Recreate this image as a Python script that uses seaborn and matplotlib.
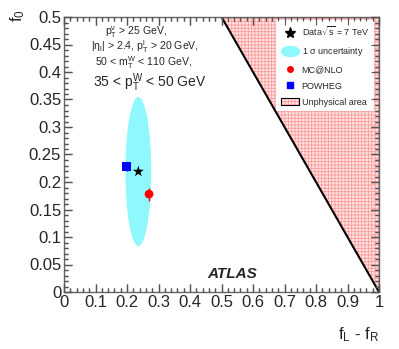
import numpy as np
import pandas as pd
import matplotlib
matplotlib.use("Agg")
import matplotlib.pyplot as plt
import matplotlib.path as mpath
from matplotlib.patches import Ellipse, Patch
from matplotlib.lines import Line2D
from matplotlib.collections import LineCollection
from matplotlib.legend_handler import HandlerTuple
from matplotlib.ticker import MultipleLocator
import seaborn as sns

# measured point and ellipse (fL - fR, f0)
data_x = [0.236]
data_y = [0.219]
ell_width = 0.082
ell_height = 0.271

# predictions
gen_names = ["MC@NLO", "POWHEG"]
gen_x = [0.270, 0.199]
gen_y = [0.178, 0.228]
gen_err = [0.012, 0.008]
gen_colors = ["#ff0000", "#0000ff"]
gen_markers = ["o", "s"]

# unphysical boundary f0 = 1 - (fL - fR)
bound_x = [0.5, 1.0]
bound_y = [0.5, 0.0]

sns.set_style("ticks")
plt.rcParams["font.family"] = ["Liberation Sans", "DejaVu Sans"]
plt.rcParams["mathtext.fontset"] = "custom"
plt.rcParams["mathtext.rm"] = "Liberation Sans"
plt.rcParams["mathtext.it"] = "Liberation Sans"
plt.rcParams["hatch.linewidth"] = 0.6
plt.rcParams["axes.axisbelow"] = False

fig = plt.figure(figsize=(3.99, 3.49), dpi=100)
ax = fig.add_axes([64 / 399, 1 - 292 / 349, 315 / 399, 275 / 349])
ax.set_axisbelow(False)

# unphysical area
ax.fill_between([0.5, 1.0], [0.5, 0.0], [0.5, 0.5],
                facecolor="#ffe4e4", edgecolor="#ff9a9a", hatch="+++++", linewidth=0)
sns.lineplot(x=bound_x, y=bound_y, color="black", linewidth=1.5, ax=ax)

# 1 sigma ellipse
ax.add_patch(Ellipse((data_x[0], data_y[0]), ell_width, ell_height,
                     facecolor="#8ff8ff", edgecolor="none", zorder=2))

gen_df = pd.DataFrame({"x": gen_x, "y": gen_y, "name": gen_names})
for i, name in enumerate(gen_names):
    ax.errorbar(gen_x[i], gen_y[i], yerr=gen_err[i], fmt="none",
                ecolor=gen_colors[i], elinewidth=1, zorder=3)
sns.scatterplot(data=gen_df, x="x", y="y", hue="name", style="name",
                palette=dict(zip(gen_names, gen_colors)),
                markers=dict(zip(gen_names, gen_markers)),
                s=40, edgecolor="none", legend=False, ax=ax, zorder=4)
sns.scatterplot(x=data_x, y=data_y, marker="*", color="black", s=70,
                edgecolor="none", ax=ax, zorder=5)

ax.set_xlim(0, 1)
ax.set_ylim(0, 0.5)
ax.xaxis.set_major_locator(MultipleLocator(0.1))
ax.xaxis.set_minor_locator(MultipleLocator(0.02))
ax.yaxis.set_major_locator(MultipleLocator(0.05))
ax.yaxis.set_minor_locator(MultipleLocator(0.01))
ax.xaxis.set_major_formatter(lambda v, p: f"{v:g}")
ax.yaxis.set_major_formatter(lambda v, p: f"{v:g}")
ax.tick_params(which="both", direction="in", top=True, right=True,
               bottom=True, left=True, labelsize=12, pad=2)
ax.tick_params(which="major", length=6, width=1, color="#555555")
ax.tick_params(which="minor", length=3, width=1, color="#555555")
for s in ax.spines.values():
    s.set_color("#666666")
    s.set_linewidth(1)
ax.set_xlabel("")
ax.set_ylabel("")


def draw_inner_ticks(ax, major_px=8, minor_px=4):
    # ROOT-style inward ticks on all four sides, drawn as plain lines
    bb = ax.get_window_extent()
    segs = []
    for locs, px in [(ax.xaxis.get_majorticklocs(), major_px),
                     (ax.xaxis.get_minorticklocs(), minor_px)]:
        h = px / bb.height
        for v in locs:
            if 0 <= v <= 1:
                segs.append([(v, 0), (v, h)])
                segs.append([(v, 1), (v, 1 - h)])
    ax.add_collection(LineCollection(segs, colors="#555555", linewidths=0.8,
                                     transform=ax.get_xaxis_transform(), zorder=6,
                                     clip_on=False))
    segs = []
    for locs, px in [(ax.yaxis.get_majorticklocs(), major_px),
                     (ax.yaxis.get_minorticklocs(), minor_px)]:
        w = px / bb.width
        for v in locs:
            if 0 <= v <= 0.5:
                segs.append([(0, v), (w, v)])
                segs.append([(1, v), (1 - w, v)])
    ax.add_collection(LineCollection(segs, colors="#555555", linewidths=0.8,
                                     transform=ax.get_yaxis_transform(), zorder=6,
                                     clip_on=False))


fig.text(359 / 399, 1 - 335 / 349, r"f$_{\rm L}$ - f$_{\rm R}$", fontsize=12,
         ha="center", va="center")
fig.text(18 / 399, 1 - 16 / 349, r"f$_0$", fontsize=12, rotation=90,
         ha="center", va="center")

# cut descriptions
ax.text(0.229, 0.473, r"p$_{\rm T}^{\nu}$ > 25 GeV,", fontsize=7.6, ha="center", va="center")
ax.text(0.257, 0.446, r"|$\eta_{\rm l}$| > 2.4, p$_{\rm T}^{\rm l}$ > 20 GeV,", fontsize=7.6,
        ha="center", va="center")
ax.text(0.254, 0.417, r"50 < m$_{\rm T}^{\rm W}$ < 110 GeV,", fontsize=7.6, ha="center", va="center")
ax.text(0.273, 0.380, r"35 < p$_{\rm T}^{\rm W}$ < 50 GeV", fontsize=10, ha="center", va="center")
ax.text(0.533, 0.033, "ATLAS", fontsize=11, fontweight="bold", fontstyle="italic",
        ha="center", va="center")

# legend
t = np.linspace(0, 2 * np.pi, 60)
ell_path = mpath.Path(np.column_stack([np.cos(t), 0.55 * np.sin(t)]))
handles = [
    Line2D([], [], marker="*", color="black", linestyle="none", markersize=8),
    Line2D([], [], marker=ell_path, color="#8ff8ff", linestyle="none", markersize=13),
    Line2D([], [], marker="o", color="#ff0000", linestyle="none", markersize=4),
    Line2D([], [], marker="s", color="#0000ff", linestyle="none", markersize=4),
    (Patch(facecolor="#ffe4e4", edgecolor="#ff9a9a", hatch="+++++", linewidth=0),
     Patch(facecolor="none", edgecolor="black", linewidth=0.8)),
]
labels = [r"Data$\sqrt{\rm s}$ = 7 TeV", r"1 $\sigma$ uncertainty", "MC@NLO",
          "POWHEG", "Unphysical area"]
leg = ax.legend(handles, labels, loc="upper left", bbox_to_anchor=(0.673, 0.99),
                fontsize=6.5, frameon=True, fancybox=False, framealpha=1,
                edgecolor="white", labelspacing=0.8, handlelength=2.0,
                handletextpad=0.35, borderpad=0.5, borderaxespad=0,
                handler_map={tuple: HandlerTuple(ndivide=1, pad=0)})
leg.get_frame().set_linewidth(0)

draw_inner_ticks(ax)
fig.savefig("out.png", dpi=100)
